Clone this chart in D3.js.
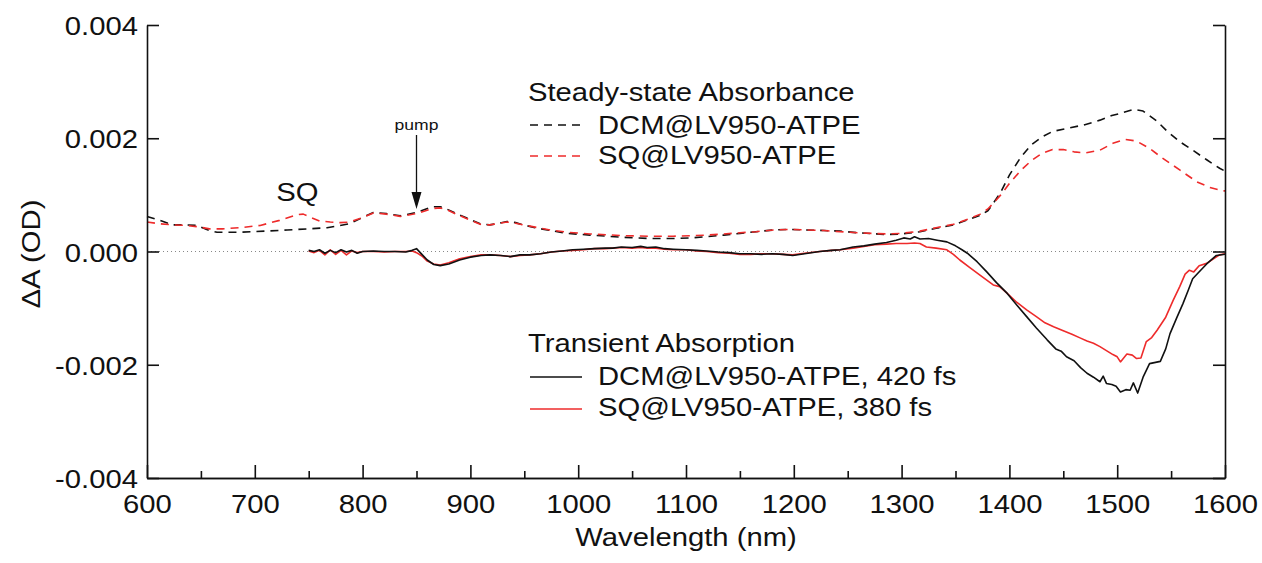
<!DOCTYPE html>
<html>
<head>
<meta charset="utf-8">
<script src="https://cdn.jsdelivr.net/npm/d3@7"></script>
<style>
  body { margin: 0; background: #fff; }
  text { font-family: "Liberation Sans", Arial, sans-serif; fill: #111; }
</style>
</head>
<body>
<div id="chart"></div>
<script>
// steady-state absorbance (x 1e-3 OD)
const ssDcmWl = [600, 612, 624, 636, 646, 658, 665, 686, 710, 730, 750, 767, 788, 800, 810, 822, 835, 850, 865, 872, 878, 888, 898, 909, 918, 927, 934, 942, 949, 960, 974, 990, 1011, 1042, 1065, 1088, 1105, 1119, 1135, 1150, 1165, 1181, 1197, 1212, 1228, 1243, 1260, 1286, 1300, 1317, 1332, 1348, 1360, 1373, 1380, 1385, 1392, 1400, 1410, 1420, 1430, 1440, 1455, 1470, 1484, 1495, 1503, 1515, 1524, 1537, 1546, 1558, 1570, 1583, 1595, 1600];
const ssDcm = [0.62, 0.55, 0.47, 0.47, 0.46, 0.37, 0.34, 0.34, 0.36, 0.38, 0.40, 0.42, 0.49, 0.60, 0.69, 0.67, 0.63, 0.69, 0.79, 0.79, 0.75, 0.66, 0.58, 0.49, 0.47, 0.50, 0.53, 0.51, 0.47, 0.42, 0.37, 0.32, 0.29, 0.25, 0.23, 0.23, 0.24, 0.26, 0.29, 0.32, 0.35, 0.38, 0.39, 0.38, 0.37, 0.36, 0.33, 0.30, 0.31, 0.35, 0.41, 0.47, 0.55, 0.64, 0.72, 0.85, 1.05, 1.35, 1.65, 1.88, 2.02, 2.12, 2.18, 2.24, 2.32, 2.40, 2.44, 2.51, 2.48, 2.30, 2.13, 1.94, 1.79, 1.62, 1.47, 1.42];

const ssSqWl = [600, 612, 624, 636, 646, 658, 670, 686, 705, 723, 739, 745, 751, 760, 770, 779, 788, 800, 810, 822, 835, 850, 865, 872, 878, 888, 898, 909, 918, 927, 934, 942, 949, 960, 974, 990, 1011, 1042, 1065, 1088, 1105, 1119, 1135, 1150, 1165, 1181, 1197, 1212, 1228, 1243, 1260, 1286, 1300, 1317, 1332, 1348, 1360, 1373, 1380, 1385, 1392, 1400, 1410, 1420, 1430, 1440, 1450, 1460, 1470, 1484, 1496, 1507, 1518, 1530, 1542, 1558, 1574, 1586, 1598, 1600];
const ssSq = [0.52, 0.49, 0.47, 0.46, 0.44, 0.40, 0.40, 0.42, 0.46, 0.55, 0.65, 0.66, 0.61, 0.54, 0.52, 0.51, 0.52, 0.60, 0.68, 0.66, 0.62, 0.67, 0.76, 0.77, 0.74, 0.65, 0.57, 0.48, 0.47, 0.50, 0.52, 0.50, 0.47, 0.43, 0.38, 0.34, 0.31, 0.28, 0.27, 0.27, 0.28, 0.29, 0.31, 0.33, 0.35, 0.38, 0.39, 0.38, 0.37, 0.35, 0.33, 0.31, 0.32, 0.36, 0.42, 0.48, 0.56, 0.66, 0.75, 0.85, 1.00, 1.20, 1.42, 1.60, 1.73, 1.80, 1.80, 1.76, 1.74, 1.79, 1.91, 1.98, 1.95, 1.82, 1.65, 1.44, 1.23, 1.13, 1.07, 1.07];

// transient absorption (x 1e-3 OD)
const taWl = [750, 755, 760, 765, 770, 775, 780, 785, 790, 795, 800, 810, 820, 830, 840, 846, 850, 855, 860, 866, 872, 880, 890, 900, 910, 918, 928, 937, 946, 955, 965, 975, 985, 995, 1005, 1015, 1025, 1032, 1040, 1050, 1058, 1064, 1072, 1080, 1088, 1100, 1110, 1119, 1130, 1140, 1150, 1160, 1170, 1180, 1190, 1199, 1210, 1224, 1235, 1243, 1255, 1265, 1275, 1286, 1295, 1302, 1308, 1312, 1317, 1325, 1333, 1342, 1350, 1356, 1361, 1370, 1379, 1388, 1398, 1407, 1416, 1425, 1435, 1443, 1448, 1453, 1460, 1466, 1472, 1478, 1484, 1487, 1490, 1495, 1499, 1503, 1508, 1512, 1515, 1519, 1524, 1530, 1540, 1545, 1549, 1555, 1561, 1566, 1570, 1575, 1583, 1592, 1600];
const taDcm = [0.02, 0.00, 0.03, -0.03, 0.02, -0.02, 0.03, -0.01, 0.02, -0.03, 0.00, 0.01, 0.00, 0.00, -0.01, 0.02, 0.05, -0.05, -0.15, -0.23, -0.25, -0.22, -0.15, -0.10, -0.07, -0.06, -0.07, -0.09, -0.06, -0.06, -0.04, -0.01, 0.01, 0.03, 0.04, 0.05, 0.06, 0.06, 0.08, 0.07, 0.09, 0.07, 0.08, 0.05, 0.04, 0.03, 0.02, 0.01, -0.01, -0.02, -0.04, -0.04, -0.05, -0.04, -0.05, -0.07, -0.04, 0.00, 0.02, 0.03, 0.08, 0.10, 0.13, 0.16, 0.20, 0.24, 0.22, 0.26, 0.22, 0.23, 0.20, 0.17, 0.10, 0.03, -0.03, -0.18, -0.36, -0.55, -0.74, -0.95, -1.15, -1.35, -1.56, -1.72, -1.76, -1.86, -1.93, -2.05, -2.15, -2.22, -2.30, -2.20, -2.33, -2.35, -2.38, -2.48, -2.44, -2.45, -2.32, -2.50, -2.22, -1.98, -1.94, -1.72, -1.45, -1.18, -0.92, -0.68, -0.48, -0.38, -0.22, -0.07, -0.05];

const taSqWl = [750, 755, 760, 765, 770, 775, 780, 785, 790, 795, 800, 810, 820, 830, 840, 846, 850, 855, 860, 866, 872, 880, 890, 900, 910, 918, 928, 937, 946, 955, 965, 975, 985, 995, 1005, 1015, 1025, 1032, 1040, 1050, 1058, 1064, 1072, 1080, 1088, 1100, 1110, 1119, 1130, 1140, 1150, 1160, 1170, 1180, 1190, 1199, 1210, 1224, 1235, 1243, 1255, 1265, 1275, 1286, 1295, 1305, 1312, 1317, 1323, 1332, 1342, 1348, 1354, 1363, 1373, 1385, 1391, 1398, 1407, 1416, 1425, 1433, 1441, 1450, 1458, 1466, 1472, 1478, 1484, 1490, 1496, 1500, 1503, 1509, 1514, 1518, 1522, 1527, 1532, 1537, 1545, 1552, 1558, 1563, 1567, 1571, 1576, 1583, 1590, 1595, 1600];
const taSq = [0.01, -0.02, 0.02, -0.06, 0.03, -0.05, 0.02, -0.06, 0.01, -0.02, 0.00, 0.00, -0.01, 0.00, 0.00, 0.01, -0.02, -0.08, -0.17, -0.22, -0.24, -0.20, -0.13, -0.09, -0.06, -0.06, -0.07, -0.09, -0.07, -0.06, -0.04, -0.01, 0.01, 0.02, 0.03, 0.05, 0.05, 0.06, 0.07, 0.06, 0.07, 0.06, 0.06, 0.04, 0.03, 0.03, 0.01, 0.00, -0.02, -0.03, -0.05, -0.05, -0.04, -0.04, -0.05, -0.06, -0.03, 0.00, 0.02, 0.03, 0.06, 0.09, 0.12, 0.13, 0.14, 0.14, 0.15, 0.14, 0.08, 0.06, 0.03, -0.05, -0.15, -0.28, -0.42, -0.59, -0.62, -0.74, -0.90, -1.03, -1.15, -1.26, -1.33, -1.40, -1.46, -1.53, -1.58, -1.62, -1.68, -1.75, -1.82, -1.86, -1.95, -1.81, -1.83, -1.89, -1.88, -1.59, -1.52, -1.39, -1.16, -0.86, -0.62, -0.40, -0.33, -0.36, -0.25, -0.21, -0.12, -0.06, -0.04];

const xTicks = d3.range(600, 1601, 100);
const yTicks = [-0.004, -0.002, 0, 0.002, 0.004];

const width = 1262, height = 563;
const plotLeft = 147, plotRight = 1225, plotTop = 25, plotBottom = 478;
const SX = 1.17; // the original lettering is a bit wide
const RED = "#ee2b2b", BLACK = "#111";

const svg = d3.select("#chart").append("svg")
  .attr("width", width)
  .attr("height", height);

const x = d3.scaleLinear().domain([600, 1600]).range([plotLeft, plotRight]);
const y = d3.scaleLinear().domain([-0.004, 0.004]).range([plotBottom, plotTop]);

function label(sel, px, py, str, size, anchor, rot) {
  return sel.append("text")
    .attr("transform", `translate(${px},${py})${rot ? " rotate(" + rot + ")" : ""} scale(${SX},1)`)
    .attr("text-anchor", anchor || "start")
    .attr("font-size", size)
    .text(str);
}

// zero line
svg.append("line")
  .attr("x1", plotLeft).attr("x2", plotRight)
  .attr("y1", y(0)).attr("y2", y(0))
  .attr("stroke", "#888")
  .attr("stroke-width", 1)
  .attr("stroke-dasharray", "1,3");

// curves
const line = d3.line().x(d => x(d[0])).y(d => y(d[1] / 1000));
const series = [
  { wl: ssDcmWl, v: ssDcm, color: BLACK, dash: "8,6" },
  { wl: ssSqWl, v: ssSq, color: RED, dash: "8,6" },
  { wl: taSqWl, v: taSq, color: RED, dash: null },
  { wl: taWl, v: taDcm, color: BLACK, dash: null }
];
series.forEach(s => {
  svg.append("path")
    .datum(s.wl.map((w, i) => [w, s.v[i]]))
    .attr("fill", "none")
    .attr("stroke", s.color)
    .attr("stroke-width", 1.6)
    .attr("stroke-dasharray", s.dash)
    .attr("stroke-linejoin", "round")
    .attr("d", line);
});

// axes
const axisStyle = g => {
  g.select(".domain").attr("stroke", BLACK).attr("stroke-width", 1.6);
  g.selectAll(".tick line").attr("stroke", BLACK).attr("stroke-width", 1.6);
  g.selectAll("text").attr("fill", BLACK).attr("font-size", 25)
    .attr("font-family", '"Liberation Sans", Arial, sans-serif');
};

svg.append("g")
  .attr("transform", `translate(0,${plotBottom})`)
  .call(d3.axisBottom(x).tickValues(d3.range(650, 1600, 100)).tickSize(-7).tickSizeOuter(0).tickFormat(""))
  .call(axisStyle);

svg.append("g")
  .attr("transform", `translate(0,${plotBottom})`)
  .call(d3.axisBottom(x).tickValues(xTicks).tickSize(-13).tickSizeOuter(0).tickFormat(d3.format("d")))
  .call(axisStyle)
  .call(g => g.selectAll("text").attr("y", null).attr("dy", null)
    .attr("transform", `translate(0,35) scale(${SX},1)`));

const yFmt = d => (d < 0 ? "-" : "") + d3.format(".3f")(Math.abs(d));
svg.append("g")
  .attr("transform", `translate(${plotLeft},0)`)
  .call(d3.axisLeft(y).tickValues(yTicks).tickSize(-12).tickSizeOuter(0).tickFormat(yFmt))
  .call(axisStyle)
  .call(g => g.selectAll("text").attr("x", null).attr("dy", null)
    .attr("transform", `translate(-9,9.5) scale(${SX},1)`));

svg.append("g")
  .attr("transform", `translate(${plotRight},0)`)
  .call(d3.axisRight(y).tickValues(yTicks).tickSize(-12).tickSizeOuter(0).tickFormat(""))
  .call(axisStyle);

// axis titles
label(svg, (plotLeft + plotRight) / 2, 546, "Wavelength (nm)", 25, "middle");
label(svg, 40, 254, "\u0394A (OD)", 25, "middle", -90);

// legends
label(svg, 528, 101, "Steady-state Absorbance", 25);
label(svg, 598, 134, "DCM@LV950-ATPE", 25);
label(svg, 598, 164, "SQ@LV950-ATPE", 25);
label(svg, 528, 352, "Transient Absorption", 25);
label(svg, 598, 385, "DCM@LV950-ATPE, 420 fs", 25);
label(svg, 598, 416, "SQ@LV950-ATPE, 380 fs", 25);

const legendLines = [
  { y: 125, color: BLACK, dash: "8,6" },
  { y: 156, color: RED, dash: "8,6" },
  { y: 377, color: BLACK, dash: null },
  { y: 409, color: RED, dash: null }
];
legendLines.forEach(l => {
  svg.append("line")
    .attr("x1", 530).attr("x2", 582)
    .attr("y1", l.y).attr("y2", l.y)
    .attr("stroke", l.color)
    .attr("stroke-width", 1.6)
    .attr("stroke-dasharray", l.dash);
});

// annotations
label(svg, x(720), 201, "SQ", 25);
label(svg, x(850), 130, "pump", 15, "middle");
svg.append("line")
  .attr("x1", x(850)).attr("x2", x(850))
  .attr("y1", 135).attr("y2", 196)
  .attr("stroke", BLACK).attr("stroke-width", 1.3);
svg.append("path")
  .attr("d", `M${x(850) - 5},192 L${x(850) + 5},192 L${x(850)},209 Z`)
  .attr("fill", BLACK);
</script>
</body>
</html>
